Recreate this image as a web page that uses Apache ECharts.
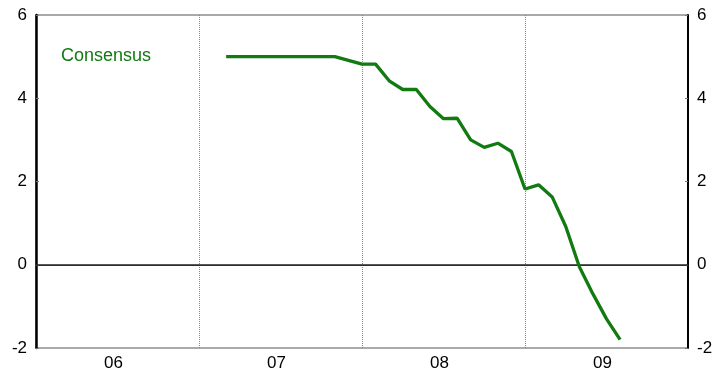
<!DOCTYPE html>
<html>
<head>
<meta charset="utf-8">
<script src="https://cdn.jsdelivr.net/npm/echarts@6/dist/echarts.min.js"></script>
<style>html,body{margin:0;padding:0;background:#fff}#c{width:718px;height:373px}</style>
</head>
<body>
<div id="c"></div>
<script>
// Tick labels for years
var yearLabels = ['06', '07', '08', '09'];
// Monthly categories Jan 2006 .. Jan 2010 (month starts)
var monthNames = ['01','02','03','04','05','06','07','08','09','10','11','12'];
var fullYears = ['2006','2007','2008','2009'];
var months = [];
fullYears.forEach(function (y) { monthNames.forEach(function (m) { months.push(y + '-' + m); }); });
months.push('2010-01');

// Consensus forecast, monthly from 2007-03 to 2009-08
var consensusStart = '2007-03';
var consensusValues = [5.0, 5.0, 5.0, 5.0, 5.0, 5.0, 5.0, 5.0, 5.0, 4.91,
  4.82, 4.82, 4.42, 4.21, 4.21, 3.80, 3.51, 3.52, 3.00, 2.82, 2.92, 2.72,
  1.82, 1.92, 1.63, 0.92, -0.05, -0.70, -1.30, -1.80];

var startIdx = months.indexOf(consensusStart);
var seriesData = months.map(function (m, i) {
  var k = i - startIdx;
  return (k >= 0 && k < consensusValues.length) ? consensusValues[k] : null;
});

var green = '#117a11';
var font = 'Liberation Sans, Arial, Helvetica, sans-serif';

var yCommon = {
  type: 'value', min: -2, max: 6, interval: 2,
  axisLine: { show: true, lineStyle: { color: '#000', width: 2 } },
  axisTick: { show: true, inside: true, length: 3, lineStyle: { color: '#777' } },
  splitLine: { show: false },
  axisLabel: { color: '#000', fontSize: 17, fontFamily: font, margin: 9, padding: [6, 0, 0, 0] }
};

var chart = echarts.init(document.getElementById('c'), null, { renderer: 'canvas' });
chart.setOption({
  animation: false,
  backgroundColor: '#fff',
  title: {
    text: 'Consensus', left: 56, top: 42,
    textStyle: { color: green, fontSize: 18, fontWeight: 'normal', fontFamily: font }
  },
  grid: { left: 36, right: 30, top: 15, bottom: 25, show: true, borderColor: '#555', borderWidth: 1, backgroundColor: 'transparent' },
  xAxis: [{
    type: 'category', data: months, boundaryGap: false,
    axisLine: { show: false }, axisTick: { show: false }, axisLabel: { show: false },
    splitLine: {
      show: true,
      interval: function (i) { return i > 0 && i < months.length - 1 && i % 12 === 0; },
      lineStyle: { color: '#888', type: [1, 1], width: 1 }
    }
  }, {
    type: 'category', data: yearLabels, boundaryGap: true, position: 'bottom',
    axisLine: { show: true, lineStyle: { color: '#555', width: 1 } },
    axisTick: { show: false },
    splitLine: { show: false },
    axisLabel: { color: '#000', fontSize: 17, fontFamily: font, margin: 7, padding: [0, 8, 0, 0] }
  }],
  yAxis: [
    Object.assign({}, yCommon, { position: 'left', axisLine: { show: true, lineStyle: { color: '#000', width: 2.5 } } }),
    Object.assign({}, yCommon, { position: 'right' })
  ],
  series: [{
    type: 'line', name: 'Consensus', data: seriesData, xAxisIndex: 0, yAxisIndex: 0,
    showSymbol: false, connectNulls: false,
    lineStyle: { color: green, width: 3.3 },
    markLine: {
      silent: true, symbol: ['none', 'none'], label: { show: false },
      lineStyle: { color: '#222', width: 1.5, type: 'solid' },
      data: [{ yAxis: 0 }]
    },
    z: 5
  }]
});
</script>
</body>
</html>
